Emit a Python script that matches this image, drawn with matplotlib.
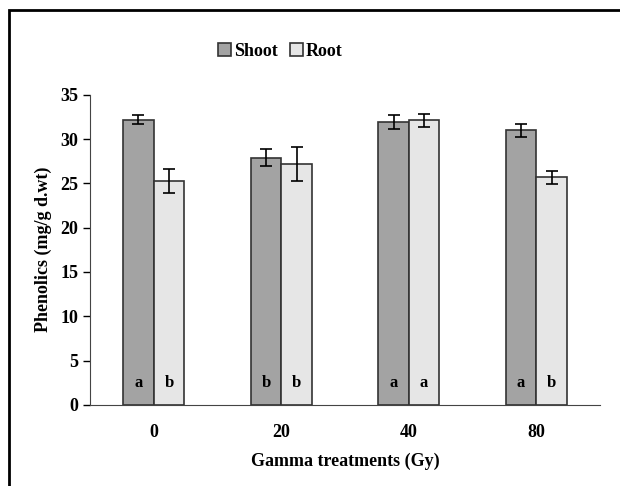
import numpy as np
import matplotlib.pyplot as plt
from matplotlib.patches import Rectangle

# data
doses = ["0", "20", "40", "80"]
shoot = [32.2, 27.9, 31.9, 31.0]
shoot_err = [0.5, 0.95, 0.8, 0.75]
root = [25.3, 27.2, 32.1, 25.7]
root_err = [1.35, 1.9, 0.7, 0.75]
shoot_letters = ["a", "b", "a", "a"]
root_letters = ["b", "b", "a", "b"]

plt.rcParams['font.family'] = ['Liberation Serif', 'DejaVu Serif']
plt.rcParams['font.weight'] = 'bold'

fig = plt.figure(figsize=(6.2, 4.86), dpi=100)
ax = fig.add_axes([0.145, 0.167, 0.823, 0.638])

x = np.arange(len(doses)) + 0.5
w = 0.24
ek = dict(ecolor='black', elinewidth=1.2, capsize=4, capthick=1.2)
b1 = ax.bar(x - w / 2, shoot, w, yerr=shoot_err, color='#a3a3a3',
            edgecolor='#333333', linewidth=1.2, error_kw=ek, label='Shoot')
b2 = ax.bar(x + w / 2, root, w, yerr=root_err, color='#e6e6e6',
            edgecolor='#333333', linewidth=1.2, error_kw=ek, label='Root')

for i in range(len(doses)):
    ax.text(x[i] - w / 2, 2.5, shoot_letters[i], ha='center', va='center',
            fontsize=12, fontweight='bold')
    ax.text(x[i] + w / 2, 2.5, root_letters[i], ha='center', va='center',
            fontsize=12, fontweight='bold')

ax.set_xlim(0, 4)
ax.set_ylim(0, 35)
ax.set_yticks(range(0, 36, 5))
ax.set_xticks(x)
ax.set_xticklabels(doses)
ax.tick_params(axis='x', length=0, labelsize=13, pad=14)
ax.tick_params(axis='y', direction='out', length=5, labelsize=13, width=1)
ax.spines['top'].set_visible(False)
ax.spines['right'].set_visible(False)
ax.spines['left'].set_color('#444444')
ax.spines['bottom'].set_color('#444444')
ax.set_ylabel("Phenolics (mg/g d.wt)", fontsize=13, fontweight='bold', labelpad=6)
ax.set_xlabel("Gamma treatments (Gy)", fontsize=13, fontweight='bold', labelpad=8)

fig.legend(handles=[b1, b2], loc='center', bbox_to_anchor=(0.452, 0.895), ncol=2,
           frameon=False, fontsize=13, handlelength=0.7, handleheight=0.7,
           handletextpad=0.15, columnspacing=0.7)

# outer frame
fig.patches.append(Rectangle((9 / 620, -0.05), 1.0, 1 - 10 / 486 + 0.05,
                             transform=fig.transFigure, fill=False,
                             edgecolor='black', linewidth=2))

plt.savefig("out.png", dpi=100)
